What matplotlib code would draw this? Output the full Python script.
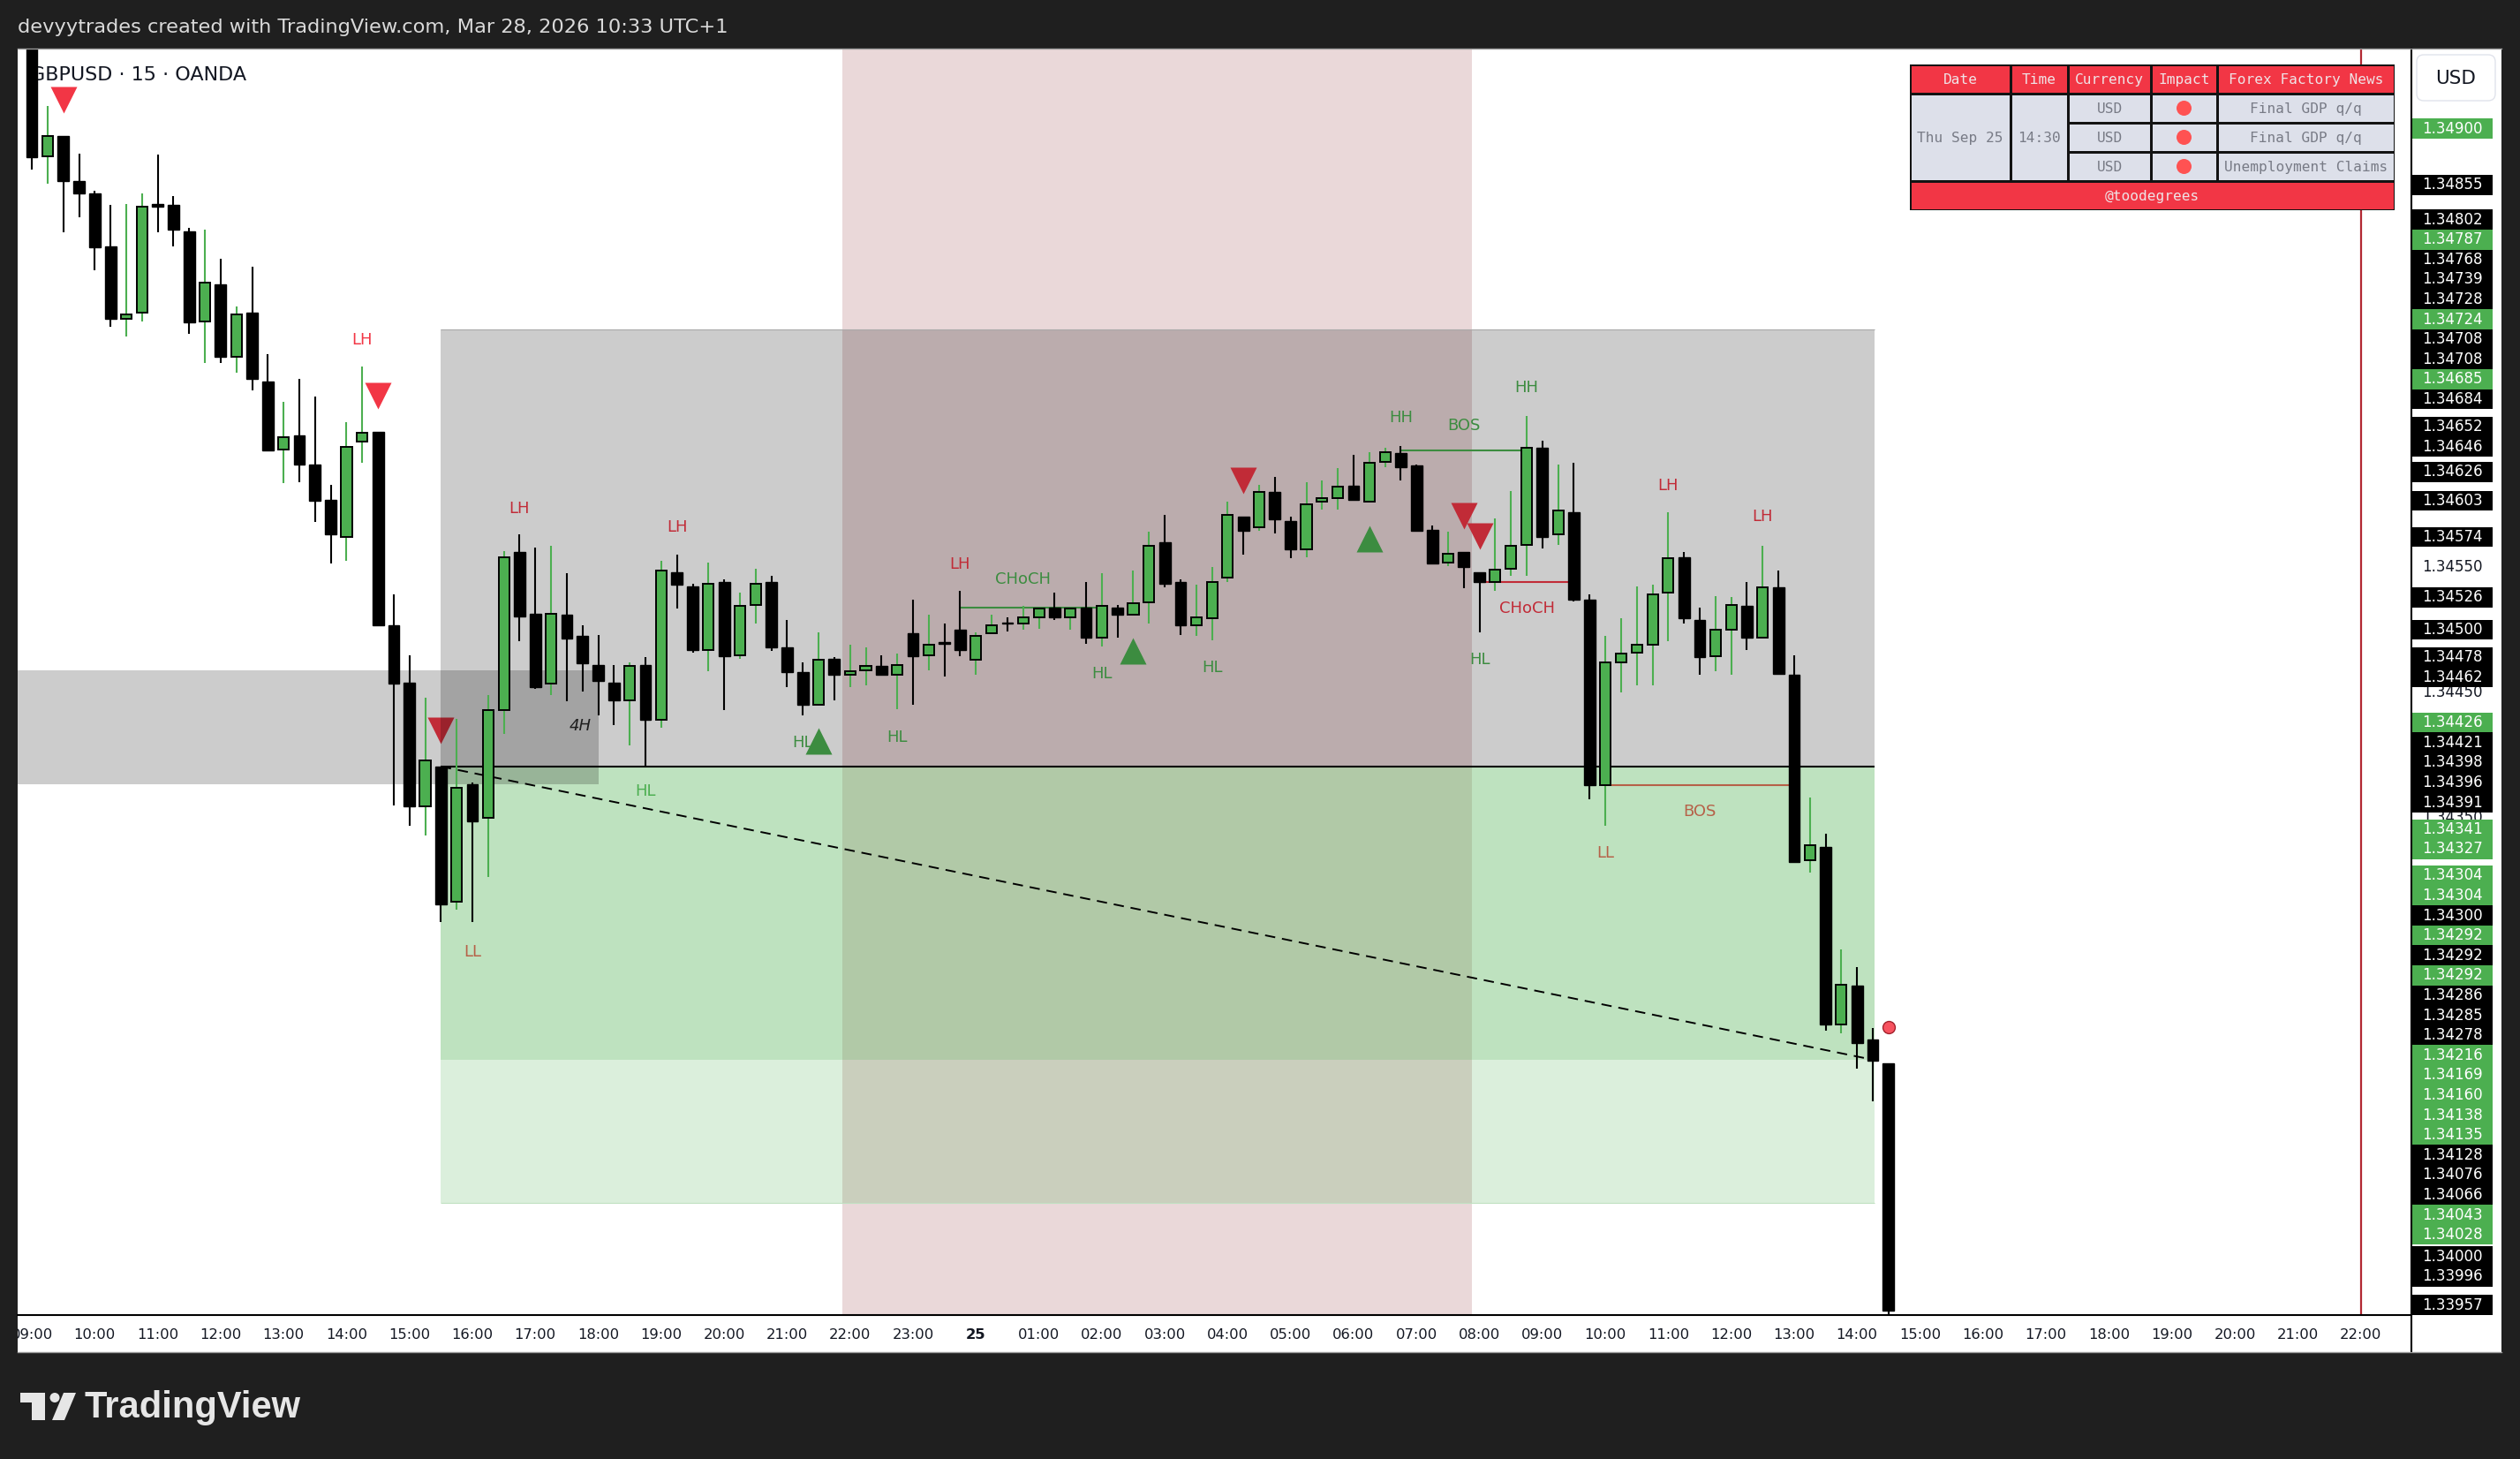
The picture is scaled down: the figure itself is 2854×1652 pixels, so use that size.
import matplotlib
matplotlib.use("Agg")
import matplotlib.pyplot as plt
import numpy as np
from matplotlib.patches import Rectangle, Circle, Polygon, FancyBboxPatch

plt.rcParams["font.family"] = ["DejaVu Sans"]

# GBPUSD 15m candles, 24 Sep 09:00 -> 25 Sep 14:30 (index 0 = 09:00)
opens = [1.34990, 1.34878, 1.34894, 1.34858, 1.34848, 1.34806, 1.34748, 1.34753, 1.34840, 1.34839,
         1.34818, 1.34746, 1.34776, 1.34718, 1.34753, 1.34698, 1.34644, 1.34655, 1.34632, 1.34604,
         1.34574, 1.34650, 1.34658, 1.34504, 1.34458, 1.34359, 1.34391, 1.34283, 1.34377, 1.34350,
         1.34436, 1.34562, 1.34513, 1.34457, 1.34512, 1.34495, 1.34472, 1.34458, 1.34444, 1.34472,
         1.34428, 1.34546, 1.34535, 1.34484, 1.34538, 1.34480, 1.34520, 1.34538, 1.34486, 1.34466,
         1.34440, 1.34477, 1.34464, 1.34468, 1.34471, 1.34464, 1.34497, 1.34480, 1.34490, 1.34500,
         1.34476, 1.34497, 1.34506, 1.34505, 1.34510, 1.34518, 1.34510, 1.34518, 1.34494, 1.34518,
         1.34512, 1.34522, 1.34570, 1.34538, 1.34504, 1.34509, 1.34542, 1.34590, 1.34582, 1.34610,
         1.34587, 1.34564, 1.34602, 1.34605, 1.34615, 1.34602, 1.34634, 1.34641, 1.34631, 1.34580,
         1.34554, 1.34562, 1.34546, 1.34538, 1.34549, 1.34568, 1.34645, 1.34576, 1.34594, 1.34524,
         1.34376, 1.34474, 1.34482, 1.34488, 1.34530, 1.34558, 1.34508, 1.34479, 1.34500, 1.34519,
         1.34494, 1.34534, 1.34464, 1.34316, 1.34327, 1.34185, 1.34216, 1.34173, 1.34154]
highs = [1.35000, 1.34918, 1.34894, 1.34880, 1.34850, 1.34839, 1.34840, 1.34848, 1.34879, 1.34846,
         1.34821, 1.34819, 1.34796, 1.34758, 1.34790, 1.34720, 1.34682, 1.34700, 1.34686, 1.34616,
         1.34666, 1.34710, 1.34658, 1.34528, 1.34480, 1.34446, 1.34391, 1.34429, 1.34378, 1.34448,
         1.34563, 1.34576, 1.34566, 1.34567, 1.34545, 1.34504, 1.34496, 1.34472, 1.34474, 1.34478,
         1.34555, 1.34560, 1.34537, 1.34554, 1.34540, 1.34530, 1.34549, 1.34543, 1.34508, 1.34474,
         1.34498, 1.34478, 1.34488, 1.34486, 1.34480, 1.34481, 1.34524, 1.34512, 1.34505, 1.34531,
         1.34498, 1.34512, 1.34510, 1.34519, 1.34517, 1.34530, 1.34517, 1.34538, 1.34545, 1.34520,
         1.34547, 1.34578, 1.34592, 1.34540, 1.34536, 1.34550, 1.34602, 1.34590, 1.34616, 1.34622,
         1.34590, 1.34618, 1.34619, 1.34629, 1.34640, 1.34642, 1.34645, 1.34647, 1.34632, 1.34583,
         1.34578, 1.34562, 1.34546, 1.34589, 1.34611, 1.34671, 1.34651, 1.34632, 1.34633, 1.34528,
         1.34495, 1.34509, 1.34535, 1.34536, 1.34594, 1.34562, 1.34518, 1.34527, 1.34526, 1.34538,
         1.34567, 1.34547, 1.34480, 1.34366, 1.34337, 1.34245, 1.34231, 1.34182, 1.34154]
lows = [1.34867, 1.34856, 1.34817, 1.34829, 1.34787, 1.34742, 1.34734, 1.34746, 1.34817, 1.34806,
        1.34736, 1.34713, 1.34713, 1.34705, 1.34691, 1.34643, 1.34617, 1.34618, 1.34586, 1.34553,
        1.34555, 1.34633, 1.34503, 1.34360, 1.34344, 1.34336, 1.34267, 1.34277, 1.34267, 1.34303,
        1.34417, 1.34491, 1.34453, 1.34448, 1.34443, 1.34451, 1.34432, 1.34424, 1.34408, 1.34391,
        1.34422, 1.34517, 1.34482, 1.34467, 1.34436, 1.34477, 1.34505, 1.34483, 1.34454, 1.34432,
        1.34440, 1.34444, 1.34454, 1.34456, 1.34464, 1.34437, 1.34440, 1.34468, 1.34463, 1.34479,
        1.34464, 1.34497, 1.34499, 1.34500, 1.34501, 1.34508, 1.34500, 1.34489, 1.34487, 1.34494,
        1.34512, 1.34505, 1.34534, 1.34496, 1.34495, 1.34492, 1.34538, 1.34560, 1.34579, 1.34577,
        1.34557, 1.34558, 1.34596, 1.34596, 1.34603, 1.34602, 1.34630, 1.34619, 1.34579, 1.34553,
        1.34551, 1.34533, 1.34498, 1.34531, 1.34543, 1.34543, 1.34565, 1.34568, 1.34523, 1.34365,
        1.34344, 1.34450, 1.34456, 1.34456, 1.34491, 1.34505, 1.34464, 1.34467, 1.34464, 1.34484,
        1.34494, 1.34465, 1.34315, 1.34306, 1.34180, 1.34178, 1.34150, 1.34124, 1.33930]
closes = [1.34877, 1.34894, 1.34858, 1.34848, 1.34805, 1.34748, 1.34752, 1.34838, 1.34838, 1.34819,
          1.34745, 1.34777, 1.34718, 1.34752, 1.34700, 1.34643, 1.34654, 1.34632, 1.34603, 1.34576,
          1.34646, 1.34657, 1.34504, 1.34457, 1.34359, 1.34396, 1.34281, 1.34374, 1.34347, 1.34436,
          1.34558, 1.34511, 1.34454, 1.34513, 1.34493, 1.34473, 1.34459, 1.34444, 1.34471, 1.34428,
          1.34547, 1.34536, 1.34484, 1.34537, 1.34479, 1.34519, 1.34537, 1.34486, 1.34466, 1.34440,
          1.34476, 1.34464, 1.34467, 1.34471, 1.34464, 1.34472, 1.34479, 1.34488, 1.34489, 1.34484,
          1.34495, 1.34504, 1.34505, 1.34510, 1.34517, 1.34510, 1.34517, 1.34494, 1.34519, 1.34512,
          1.34521, 1.34567, 1.34537, 1.34504, 1.34510, 1.34538, 1.34592, 1.34579, 1.34610, 1.34588,
          1.34564, 1.34600, 1.34605, 1.34614, 1.34604, 1.34633, 1.34642, 1.34630, 1.34579, 1.34553,
          1.34561, 1.34550, 1.34538, 1.34548, 1.34567, 1.34645, 1.34574, 1.34595, 1.34524, 1.34376,
          1.34474, 1.34481, 1.34488, 1.34528, 1.34557, 1.34509, 1.34478, 1.34500, 1.34520, 1.34494,
          1.34534, 1.34465, 1.34315, 1.34328, 1.34185, 1.34217, 1.34170, 1.34156, 1.33957]

hour_labels = ["09:00", "10:00", "11:00", "12:00", "13:00", "14:00", "15:00", "16:00", "17:00",
               "18:00", "19:00", "20:00", "21:00", "22:00", "23:00", "25", "01:00", "02:00",
               "03:00", "04:00", "05:00", "06:00", "07:00", "08:00", "09:00", "10:00", "11:00",
               "12:00", "13:00", "14:00", "15:00", "16:00", "17:00", "18:00", "19:00", "20:00",
               "21:00", "22:00"]

# market structure labels
struct_text = ["LH", "LH", "LH", "LH", "LH", "LH", "LL", "LL",
               "HL", "HL", "HL", "HL", "HL", "HL", "HH", "HH",
               "CHoCH", "BOS", "CHoCH", "BOS"]
struct_x = [21, 31, 41, 59, 104, 110, 28, 100, 39, 49, 55, 68, 75, 92, 87, 95, 63, 91, 95, 106]
struct_y = [1.34731, 1.34597, 1.34582, 1.34552, 1.34615, 1.34590, 1.34243, 1.34322,
            1.34371, 1.34410, 1.34414, 1.34465, 1.34470, 1.34476, 1.34669, 1.34693,
            1.34540, 1.34663, 1.34517, 1.34355]
struct_bull = [0, 0, 0, 0, 0, 0, 0, 0, 1, 1, 1, 1, 1, 1, 1, 1, 1, 1, 0, 0]

# structure break lines
brk_x0 = [59, 87, 92, 100]
brk_x1 = [68, 95, 98, 112]
brk_y = [1.34518, 1.34643, 1.34538, 1.34376]
brk_bull = [1, 1, 0, 0]

# signal triangles
dn_x = [2, 22, 26, 77, 91, 92]
dn_y = [1.34923, 1.34687, 1.34420, 1.34619, 1.34591, 1.34575]
up_x = [50, 70, 85]
up_y = [1.34411, 1.34483, 1.34573]

# zones (x from, x to, price low, price high)
session = (51.5, 91.5)
range_box = (26, 117.1, 1.34391, 1.34740)
demand_box = (26, 117.1, 1.34157, 1.34391)
demand_ext = (26, 117.1, 1.34043, 1.34157)
h4_box = (-5, 36, 1.34377, 1.34468)
trend = ([26, 117], [1.34391, 1.34157])
news_x, news_y = 118, 1.34183
day_end = 148

# right scale labels
price_labels = [1.34900, 1.34855, 1.34802, 1.34787, 1.34768, 1.34739, 1.34728, 1.34724, 1.34708,
                1.34708, 1.34685, 1.34684, 1.34652, 1.34646, 1.34626, 1.34603, 1.34574, 1.34526,
                1.34500, 1.34478, 1.34462, 1.34426, 1.34421, 1.34398, 1.34396, 1.34391, 1.34341,
                1.34327, 1.34304, 1.34304, 1.34300, 1.34292, 1.34292, 1.34292, 1.34286, 1.34285,
                1.34278, 1.34216, 1.34169, 1.34160, 1.34138, 1.34135, 1.34128, 1.34076, 1.34066,
                1.34043, 1.34028, 1.34000, 1.33996, 1.33957]
price_label_kind = "gkkgkkkgkkgkkkkkkkkkkgkkkkggggkgkgkkkgggggkkkggkkk"

# news table
tbl_header = ["Date", "Time", "Currency", "Impact", "Forex Factory News"]
tbl_date, tbl_time = "Thu Sep 25", "14:30"
tbl_currency = ["USD", "USD", "USD"]
tbl_news = ["Final GDP q/q", "Final GDP q/q", "Unemployment Claims"]
tbl_footer = "@toodegrees"

GREEN = "#4caf50"
RED = "#f23645"
W, H = 2854, 1652


def box(l, t, r, b):
    return [l / W, 1 - b / H, (r - l) / W, (b - t) / H]


fig = plt.figure(figsize=(W / 100, H / 100), dpi=100, facecolor="#1f1f1f")

bg = fig.add_axes([0, 0, 1, 1], zorder=0)
bg.set_xlim(0, W)
bg.set_ylim(H, 0)
bg.axis("off")
bg.add_patch(Rectangle((20, 55), 2813, 1476, fc="white", ec="none"))
bg.text(20, 31, "devyytrades created with TradingView.com, Mar 28, 2026 10:33 UTC+1",
        color="#dadada", fontsize=16.2, va="center")
# TradingView logo
bg.add_patch(Polygon([(23, 1577), (51, 1577), (51, 1608), (36, 1608), (36, 1588), (23, 1588)],
                     fc="#e6e6e6", ec="none"))
bg.add_patch(Circle((62, 1582.5), 5.5, fc="#e6e6e6", ec="none"))
bg.add_patch(Polygon([(72, 1577), (86, 1577), (73, 1608), (59, 1608)], fc="#e6e6e6", ec="none"))
bg.text(95, 1594, "TradingView", color="#e6e6e6", fontsize=30, fontweight="bold",
        family="Liberation Sans", va="center")

# main price pane
ax = fig.add_axes(box(20, 55, 2730, 1489), zorder=1)
ax.set_facecolor("white")
for s in ax.spines.values():
    s.set_visible(False)
ax.set_xticks([])
ax.set_yticks([])
ax.set_xlim(-0.9, 151.17)
ax.set_ylim(1.339533, 1.349638)

ax.text(0.0052, 0.979, "GBPUSD · 15 · OANDA", transform=ax.transAxes, fontsize=16,
        color="#131722", va="center", zorder=0.5)

ax.axvspan(*session, color="#ead8d9", lw=0, zorder=0.2)
ax.axvline(day_end, color="#b22833", lw=1.6, zorder=1)

for t, x, y, b in zip(struct_text, struct_x, struct_y, struct_bull):
    ax.text(x, y, t, color=GREEN if b else RED, fontsize=13, ha="center", va="center", zorder=1)
for x0, x1, y, b in zip(brk_x0, brk_x1, brk_y, brk_bull):
    ax.hlines(y, x0, x1, color=GREEN if b else RED, lw=1.5, zorder=1)
ax.plot(dn_x, dn_y, "v", ms=22, color=RED, mec="none", zorder=1.5)
ax.plot(up_x, up_y, "^", ms=22, color=GREEN, mec="none", zorder=1.5)

for (x0, x1, y0, y1), fc, a in [(range_box, "black", 0.2), (demand_box, GREEN, 0.36),
                                (demand_ext, GREEN, 0.2), (h4_box, "black", 0.2)]:
    ax.add_patch(Rectangle((x0, y0), x1 - x0, y1 - y0, fc=fc, alpha=a, ec="none", zorder=2))
ax.hlines(range_box[3], range_box[0], range_box[1], color="#a9a9a9", lw=0.8, zorder=2.1)
ax.hlines(demand_ext[2], demand_ext[0], demand_ext[1], color="#bfe0c1", lw=0.8, zorder=2.1)
ax.text(34.85, 1.34423, "4H", style="italic", fontsize=13, color="#1e1e1e",
        ha="center", va="center", zorder=2.2)
ax.hlines(range_box[2], range_box[0], range_box[1], color="black", lw=1.5, zorder=3)
ax.plot(*trend, color="black", lw=1.4, ls=(0, (6, 4)), zorder=3)

o, hi, lo, c = map(np.array, (opens, highs, lows, closes))
xs = np.arange(len(o))
up = c >= o
ax.vlines(xs[up], lo[up], hi[up], color=GREEN, lw=1.5, zorder=4)
ax.vlines(xs[~up], lo[~up], hi[~up], color="black", lw=1.5, zorder=4)
ax.bar(xs[up], (c - o)[up], bottom=o[up], width=0.68, color=GREEN, edgecolor="black",
       linewidth=1.4, zorder=5)
ax.bar(xs[~up], (o - c)[~up], bottom=c[~up], width=0.72, color="black", edgecolor="black",
       linewidth=1.0, zorder=5)
ax.plot(news_x, news_y, "o", ms=10, mfc="#f7525f", mec="#a3222d", mew=1, zorder=6)

# time scale
tax = fig.add_axes(box(20, 1489, 2730, 1531), zorder=2)
tax.axis("off")
tax.set_xlim(ax.get_xlim())
tax.set_ylim(0, 1)
for k, lab in enumerate(hour_labels):
    tax.text(4 * k, 0.47, lab, ha="center", va="center", fontsize=11.8, color="#131722",
             fontweight="bold" if lab == "25" else "normal", clip_on=True)

# price scale: labels above the middle get pushed up, below it pushed down
pax = fig.add_axes(box(2731, 55, 2833, 1489), zorder=2)
pax.axis("off")
pax.set_xlim(0, 1)
y0, y1 = ax.get_ylim()
pax.set_ylim(y0, y1)
lab_h = 22.6 * (y1 - y0) / 1434
mid = (y0 + y1) / 2
pos = {}
prev = -np.inf
for j in sorted([j for j, v in enumerate(price_labels) if v >= mid], key=lambda j: price_labels[j]):
    prev = max(price_labels[j], prev + lab_h)
    pos[j] = prev
prev = np.inf
for j in sorted([j for j, v in enumerate(price_labels) if v < mid], key=lambda j: -price_labels[j]):
    prev = min(price_labels[j], prev - lab_h)
    pos[j] = max(prev, y0 + lab_h / 2)

for v in np.arange(1.33950, 1.34960, 0.001):
    near = min(abs(v - p) for p in pos.values())
    if near > lab_h * 0.55 and y0 + lab_h / 2 < v < y1 - 3 * lab_h:
        pax.text(0.455, v, f"{v:.5f}", ha="center", va="center", fontsize=12, color="#131722",
                 zorder=2)

for j, v in enumerate(price_labels):
    fc = GREEN if price_label_kind[j] == "g" else "black"
    pax.add_patch(Rectangle((0.01, pos[j] - lab_h / 2), 0.89, lab_h, fc=fc, ec="none",
                            zorder=3, clip_on=False))
    pax.text(0.455, pos[j], f"{v:.5f}", ha="center", va="center", fontsize=12,
             color="white", zorder=4)

# overlay: borders, currency button, news table
ov = fig.add_axes([0, 0, 1, 1], zorder=10)
ov.set_xlim(0, W)
ov.set_ylim(H, 0)
ov.axis("off")
ov.plot([2731, 2731], [55, 1531], color="black", lw=1.5)
ov.plot([20, 2731], [1489, 1489], color="black", lw=1.5)
ov.plot([20, 2833], [55, 55], color="#9a9a9a", lw=1)
ov.plot([20, 2833], [1531, 1531], color="#9a9a9a", lw=1)
ov.add_patch(FancyBboxPatch((2737, 62), 89, 52, boxstyle="round,pad=0,rounding_size=8",
                            fc="white", ec="#e0e3eb", lw=1))
ov.text(2781, 89, "USD", ha="center", va="center", fontsize=15.5, color="#131722")

col_w = [114, 65, 94, 75, 201]
row_h = [33, 33, 33, 33, 33]
cx = 2163 + np.concatenate([[0], np.cumsum(col_w)])
ry = 73 + np.concatenate([[0], np.cumsum(row_h)])
ov.add_patch(Rectangle((cx[0], ry[0]), cx[-1] - cx[0], ry[-1] - ry[0], fc="#131313", ec="none"))


def cell(c0, c1, r0, r1, fc, text=None, tc="#787b86"):
    ov.add_patch(Rectangle((cx[c0] + 1.5, ry[r0] + 1.5), cx[c1] - cx[c0] - 3, ry[r1] - ry[r0] - 3,
                           fc=fc, ec="none"))
    if text:
        ov.text((cx[c0] + cx[c1]) / 2, (ry[r0] + ry[r1]) / 2 + 1, text, ha="center", va="center",
                family="DejaVu Sans Mono", fontsize=11.6, color=tc)


for k, t in enumerate(tbl_header):
    cell(k, k + 1, 0, 1, RED, t, "#efe3e6")
cell(0, 1, 1, 4, "#dde0ea", tbl_date)
cell(1, 2, 1, 4, "#dde0ea", tbl_time)
for r in range(3):
    cell(2, 3, r + 1, r + 2, "#dde0ea", tbl_currency[r])
    cell(3, 4, r + 1, r + 2, "#dde0ea")
    ov.add_patch(Circle(((cx[3] + cx[4]) / 2, (ry[r + 1] + ry[r + 2]) / 2), 8.5, fc="#ff5252", ec="none"))
    cell(4, 5, r + 1, r + 2, "#dde0ea", tbl_news[r])
cell(0, 5, 4, 5, RED, tbl_footer, "#efe3e6")

fig.savefig("out.png", dpi=100, facecolor=fig.get_facecolor())
